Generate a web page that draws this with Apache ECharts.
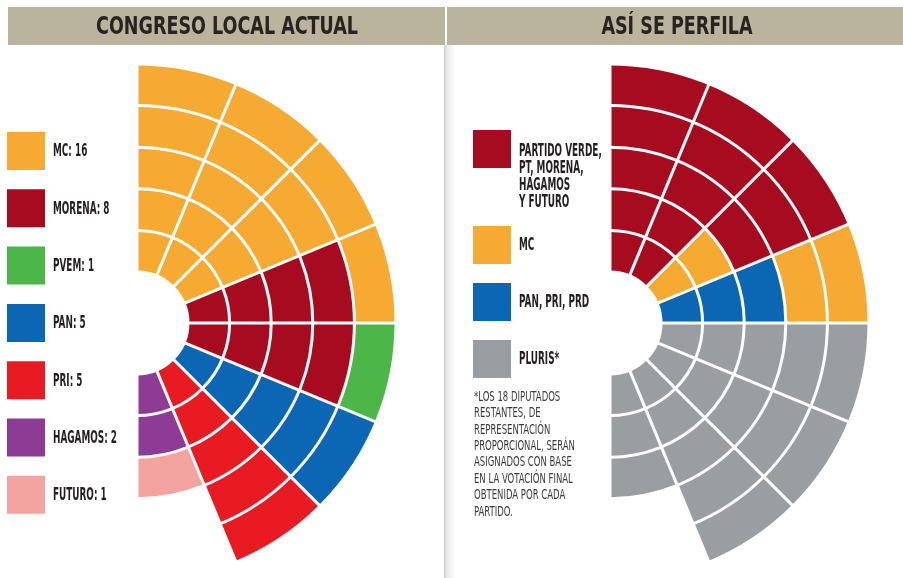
<!DOCTYPE html>
<html>
<head>
<meta charset="utf-8">
<script src="https://cdn.jsdelivr.net/npm/echarts@6/dist/echarts.min.js"></script>
<style>
html,body{margin:0;padding:0;background:#fff;}
#chart{width:903px;height:578px;}
</style>
</head>
<body>
<div id="chart"></div>
<script>
// ---- data ----
// eight 22.5-degree wedges of the half circle, from top (90deg) clockwise to bottom (-90deg)
const wedges = ['W1','W2','W3','W4','W5','W6','W7','W8'];

// Left: current local congress
const leftNames  = ['MC','MORENA','PVEM','PAN','PRI','HAGAMOS','FUTURO'];
const leftSeats  = [16, 8, 1, 5, 5, 2, 1];
const leftColors = ['#f6aa32','#a60b20','#4cb748','#0b66b3','#e81b23','#8e3b96','#f3a3a0'];
// seats of each party inside each wedge (inner rings first through stacking)
const mcNow      = [5,5,5,1,0,0,0,0];
const morenaNow  = [0,0,0,4,4,0,0,0];
const pvemNow    = [0,0,0,0,1,0,0,0];
const panNow     = [0,0,0,0,0,5,0,0];
const priNow     = [0,0,0,0,0,0,5,0];
const hagamosNow = [0,0,0,0,0,0,0,2];
const futuroNow  = [0,0,0,0,0,0,0,1];
const leftWedgeSeats = [mcNow, morenaNow, pvemNow, panNow, priNow, hagamosNow, futuroNow];
const leftStackOrder = ['MORENA','HAGAMOS','MC','PVEM','PAN','PRI','FUTURO'];

// Right: projected congress
const rightNames  = ['PARTIDO VERDE, PT, MORENA, HAGAMOS Y FUTURO','MC','PAN, PRI, PRD','PLURIS*'];
const rightLabels = ['PARTIDO VERDE,\nPT, MORENA,\nHAGAMOS\nY FUTURO','MC','PAN, PRI, PRD','PLURIS*'];
const rightColors = ['#a60b20','#f6aa32','#0b66b3','#9a9ea1'];
const allianceNext = [5,5,3,0,0,0,0,0];
const mcNext       = [0,0,2,2,0,0,0,0];
const panNext      = [0,0,0,3,0,0,0,0];
const plurisNext   = [0,0,0,0,5,5,5,3];
const rightWedgeSeats = [allianceNext, mcNext, panNext, plurisNext];
const rightStackOrder = ['PAN, PRI, PRD','MC','PARTIDO VERDE, PT, MORENA, HAGAMOS Y FUTURO','PLURIS*'];

const rings = 5;
const titles = ['CONGRESO LOCAL ACTUAL','ASÍ SE PERFILA'];

// ---- chart ----
const FONT = '"DejaVu Sans Condensed","DejaVu Sans","Liberation Sans",sans-serif';
const plurisCount = plurisNext.reduce((a,b)=>a+b,0);
const footnote = '*LOS ' + plurisCount + ' DIPUTADOS\nRESTANTES, DE\nREPRESENTACIÓN\nPROPORCIONAL, SERÁN\nASIGNADOS CON BASE\nEN LA VOTACIÓN FINAL\nOBTENIDA POR CADA\nPARTIDO.';

// legend geometry
const ICON = 38;
const leftTop = 132, leftStep = 57.3;
const rightTops = [130, 226, 283, 340];

function axisPair(idx){
  return {
    angle: {
      polarIndex: idx, type: 'category', data: wedges,
      startAngle: 90, endAngle: -90, clockwise: true,
      boundaryGap: true,
      axisLine: {show:false}, axisTick: {show:false}, axisLabel: {show:false},
      splitLine: {show:true, lineStyle:{color:'#ffffff', width:3}},
      z: 10
    },
    radius: {
      polarIndex: idx, type: 'value', min: 0, max: rings, interval: 1,
      axisLine: {show:false}, axisTick: {show:false}, axisLabel: {show:false},
      splitLine: {show:true, lineStyle:{color:'#ffffff', width:3}},
      z: 10
    }
  };
}
const a0 = axisPair(0), a1 = axisPair(1);

const series = [];
leftStackOrder.forEach(function(name){
  const i = leftNames.indexOf(name);
  series.push({
    type:'bar', coordinateSystem:'polar', polarIndex:0, stack:'now',
    name:name, data:leftWedgeSeats[i], barCategoryGap:'0%',
    itemStyle:{color:leftColors[i]}, silent:true, emphasis:{disabled:true}
  });
});
rightStackOrder.forEach(function(name){
  const i = rightNames.indexOf(name);
  series.push({
    type:'bar', coordinateSystem:'polar', polarIndex:1, stack:'next',
    name:name, data:rightWedgeSeats[i], barCategoryGap:'0%',
    itemStyle:{color:rightColors[i]}, silent:true, emphasis:{disabled:true}
  });
});

// condensed labels (real text, horizontally compressed to mimic the condensed newspaper face)
const labelGraphics = [];
function label(text, x, y, opts){
  labelGraphics.push({
    type:'text', z:31, x:x, y:y, scaleX:opts.scaleX,
    style:{text:text, fontFamily:FONT, fontSize:opts.size, fontWeight:opts.weight || 'bold',
      lineHeight:opts.lineHeight || opts.size, fill:opts.fill || '#231f20',
      align:'left', verticalAlign:opts.va || 'middle', textAlign:'left', textVerticalAlign:opts.va || 'middle'}
  });
}
leftNames.forEach(function(n, i){
  label(n + ': ' + leftSeats[i], 53, leftTop + i*leftStep + ICON/2 + 1, {size:17, scaleX:0.58});
});
label(rightLabels[0], 519, 143.5, {size:17, scaleX:0.58, lineHeight:17, va:'top'});
for (let i = 1; i < rightLabels.length; i++) {
  label(rightLabels[i], 519, rightTops[i] + ICON/2 + 1, {size:17, scaleX:0.58});
}
label(footnote, 474, 389, {size:13.5, scaleX:0.7, lineHeight:16.4, weight:'normal', va:'top', fill:'#3c3c3c'});

const chart = echarts.init(document.getElementById('chart'), null, {renderer:'canvas'});
chart.setOption({
  animation:false,
  backgroundColor:'#ffffff',
  polar:[
    {center:[137,323], radius:[51,259]},
    {center:[610,323], radius:[51,259]}
  ],
  angleAxis:[a0.angle, a1.angle],
  radiusAxis:[a0.radius, a1.radius],
  legend:[
    {
      data:leftNames, orient:'vertical', left:7, top:leftTop, padding:0,
      itemWidth:ICON, itemHeight:ICON, itemGap:leftStep-ICON, icon:'rect', z:20,
      selectedMode:false, formatter:function(){ return ''; }
    },
    {
      data:[rightNames[0]], orient:'vertical', left:473, top:rightTops[0], padding:0,
      itemWidth:ICON, itemHeight:ICON, icon:'rect', z:20, selectedMode:false,
      formatter:function(){ return ''; }
    },
    {
      data:rightNames.slice(1), orient:'vertical', left:473, top:rightTops[1], padding:0,
      itemWidth:ICON, itemHeight:ICON, itemGap:rightTops[2]-rightTops[1]-ICON, icon:'rect', z:20, selectedMode:false,
      formatter:function(){ return ''; }
    }
  ],
  graphic:[
    {type:'rect', z:30, shape:{x:8, y:7, width:437, height:38}, style:{fill:'#bab39e'}},
    {type:'rect', z:30, shape:{x:447, y:7, width:456, height:38}, style:{fill:'#bab39e'}},
    {type:'rect', z:30, shape:{x:444, y:45, width:1.5, height:533}, style:{fill:'#cfcfcf'}},
    {type:'rect', z:30, shape:{x:445.5, y:45, width:10, height:533},
      style:{fill:new echarts.graphic.LinearGradient(0,0,1,0,[{offset:0,color:'rgba(0,0,0,0.10)'},{offset:1,color:'rgba(0,0,0,0)'}])}},
    {type:'text', z:31, x:227, y:27, scaleX:0.78, style:{text:titles[0], align:'center', verticalAlign:'middle',
      textAlign:'center', textVerticalAlign:'middle', fontFamily:FONT, fontSize:25, fontWeight:'bold', fill:'#29231f'}},
    {type:'text', z:31, x:677, y:27, scaleX:0.78, style:{text:titles[1], align:'center', verticalAlign:'middle',
      textAlign:'center', textVerticalAlign:'middle', fontFamily:FONT, fontSize:25, fontWeight:'bold', fill:'#29231f'}}
  ].concat(labelGraphics),
  series:series
});
</script>
</body>
</html>
